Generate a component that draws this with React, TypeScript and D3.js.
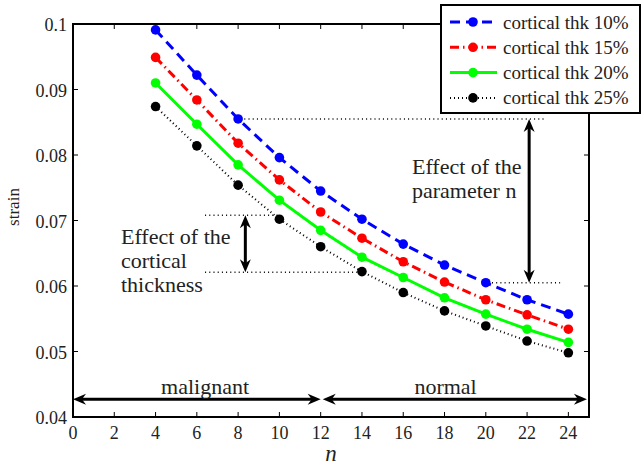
import * as d3 from "d3";
import { useEffect } from "react";

// values
const nValues = [4, 6, 8, 10, 12, 14, 16, 18, 20, 22, 24];
const thk10 = [0.0991, 0.0922, 0.0855, 0.0796, 0.0745, 0.0702, 0.0664, 0.0632, 0.0605, 0.0579, 0.0557];
const thk15 = [0.0949, 0.0884, 0.0818, 0.0762, 0.0713, 0.0673, 0.0637, 0.0606, 0.0579, 0.0556, 0.0534];
const thk20 = [0.091, 0.0847, 0.0785, 0.0731, 0.0685, 0.0644, 0.0613, 0.0582, 0.0557, 0.0534, 0.0514];
const thk25 = [0.0874, 0.0814, 0.0754, 0.0702, 0.066, 0.0622, 0.059, 0.0562, 0.0539, 0.0516, 0.0498];

const seriesNames = ["cortical thk 10%", "cortical thk 15%", "cortical thk 20%", "cortical thk 25%"];
const seriesColors = ["#0000ff", "#ff0000", "#00ff00", "#000000"];
const seriesDash = ["10,6", "9,4,1.5,4", "", "1,3"];
const seriesWidth = [3, 3, 3, 2];

const xTicks = [0, 2, 4, 6, 8, 10, 12, 14, 16, 18, 20, 22, 24];
const yTicks = [0.04, 0.05, 0.06, 0.07, 0.08, 0.09, 0.1];
const yTickLabels = ["0.04", "0.05", "0.06", "0.07", "0.08", "0.09", "0.1"];

const width = 641;
const height = 466;
const left = 73;
const right = 589;
const top = 24;
const bottom = 417;

const serif = { fontFamily: "'Liberation Serif'" };

// arrow head path, tip at (x,y), pointing along (dx,dy)
function head(x: number, y: number, dx: number, dy: number) {
  const L = 13, W = 5.5, N = 9;
  const px = -dy, py = dx;
  const bx = x - dx * L, by = y - dy * L;
  const nx = x - dx * N, ny = y - dy * N;
  return `M${x},${y}L${bx + px * W},${by + py * W}L${nx},${ny}L${bx - px * W},${by - py * W}Z`;
}

function DoubleArrow({ x1, y1, x2, y2 }: { x1: number; y1: number; x2: number; y2: number }) {
  const len = Math.hypot(x2 - x1, y2 - y1);
  const dx = (x2 - x1) / len, dy = (y2 - y1) / len;
  return (
    <g>
      <line x1={x1 + dx * 8} y1={y1 + dy * 8} x2={x2 - dx * 8} y2={y2 - dy * 8} stroke="#000" strokeWidth={3} />
      <path d={head(x1, y1, -dx, -dy)} fill="#000" />
      <path d={head(x2, y2, dx, dy)} fill="#000" />
    </g>
  );
}

export default function App() {
  useEffect(() => {
    document.body.style.margin = "0";
  }, []);

  const x = d3.scaleLinear().domain([0, 25]).range([left, right]);
  const y = d3.scaleLinear().domain([0.04, 0.1]).range([bottom, top]);

  const series = [thk10, thk15, thk20, thk25];
  const line = d3
    .line<number>()
    .x((_, i) => x(nValues[i]))
    .y((d) => y(d));

  const dotted = { stroke: "#000", strokeWidth: 1.6, strokeDasharray: "1,3.2" };

  return (
    <svg width={width} height={height} style={{ display: "block", background: "#fff" }}>
      <rect width={width} height={height} fill="#fff" />

      {/* ticks, inside on all sides */}
      <g stroke="#000" strokeWidth={1}>
        {xTicks.map((t) => (
          <g key={t}>
            <line x1={x(t)} x2={x(t)} y1={bottom} y2={bottom - 5} />
            <line x1={x(t)} x2={x(t)} y1={top} y2={top + 5} />
          </g>
        ))}
        {yTicks.map((t) => (
          <g key={t}>
            <line x1={left} x2={left + 5} y1={y(t)} y2={y(t)} />
            <line x1={right} x2={right - 5} y1={y(t)} y2={y(t)} />
          </g>
        ))}
      </g>

      {/* tick labels */}
      <g fontSize={18} fill="#222">
        {xTicks.map((t) => (
          <text key={t} x={x(t)} y={439} textAnchor="middle" style={serif}>
            {t}
          </text>
        ))}
        {yTicks.map((t, i) => (
          <text key={t} x={67} y={y(t) + 7} textAnchor="end" style={serif}>
            {yTickLabels[i]}
          </text>
        ))}
      </g>

      <text x={331} y={461} style={serif} fontSize={23} fontStyle="italic" textAnchor="middle" fill="#222">
        n
      </text>
      <text transform={`translate(19,207) rotate(-90)`} style={serif} fontSize={17} textAnchor="middle" fill="#222">
        strain
      </text>

      {/* annotation guides */}
      <line x1={x(8.3)} x2={x(22.8)} y1={y(0.0855)} y2={y(0.0855)} {...dotted} />
      <line x1={x(20.3)} x2={x(23.6)} y1={y(0.0605)} y2={y(0.0605)} {...dotted} />
      <line x1={x(6.4)} x2={x(10)} y1={y(0.0708)} y2={y(0.0708)} {...dotted} />
      <line x1={x(6.4)} x2={x(14)} y1={y(0.0621)} y2={y(0.0621)} {...dotted} />

      <DoubleArrow x1={x(22.1)} y1={y(0.0855)} x2={x(22.1)} y2={y(0.0605)} />
      <DoubleArrow x1={x(8.35)} y1={y(0.0708)} x2={x(8.35)} y2={y(0.0621)} />
      <DoubleArrow x1={x(0)} y1={y(0.0427)} x2={x(12)} y2={y(0.0427)} />
      <DoubleArrow x1={x(12.1)} y1={y(0.0427)} x2={x(24.9)} y2={y(0.0427)} />

      <g fontSize={22} fill="#222">
        <text x={412} y={174} style={serif}>Effect of the</text>
        <text x={412} y={197.5} style={serif}>parameter n</text>
        <text x={121} y={244} style={serif}>Effect of the</text>
        <text x={121} y={268} style={serif}>cortical</text>
        <text x={121} y={292} style={serif}>thickness</text>
        <text x={x(6.4)} y={394} textAnchor="middle" style={serif}>malignant</text>
        <text x={x(18.05)} y={394} textAnchor="middle" style={serif}>normal</text>
      </g>

      {/* data */}
      {series.map((s, k) => (
        <g key={k}>
          <path
            d={line(s) || ""}
            fill="none"
            stroke={seriesColors[k]}
            strokeWidth={seriesWidth[k]}
            strokeDasharray={seriesDash[k] || undefined}
          />
          {s.map((v, i) => (
            <circle key={i} cx={x(nValues[i])} cy={y(v)} r={4.8} fill={seriesColors[k]} />
          ))}
        </g>
      ))}

      {/* axes box */}
      <rect x={left} y={top} width={right - left} height={bottom - top} fill="none" stroke="#000" strokeWidth={2} />

      {/* legend */}
      <g>
        <rect x={441} y={5} width={199} height={108} fill="#fff" stroke="#000" strokeWidth={2} />
        {seriesNames.map((name, k) => {
          const ly = 22 + k * 25.3;
          return (
            <g key={name}>
              <line
                x1={450}
                x2={497}
                y1={ly}
                y2={ly}
                stroke={seriesColors[k]}
                strokeWidth={seriesWidth[k]}
                strokeDasharray={seriesDash[k] || undefined}
              />
              <circle cx={473} cy={ly} r={4.8} fill={seriesColors[k]} />
              <text x={503} y={ly + 6.5} style={serif} fontSize={19} fill="#222">
                {name}
              </text>
            </g>
          );
        })}
      </g>
    </svg>
  );
}
